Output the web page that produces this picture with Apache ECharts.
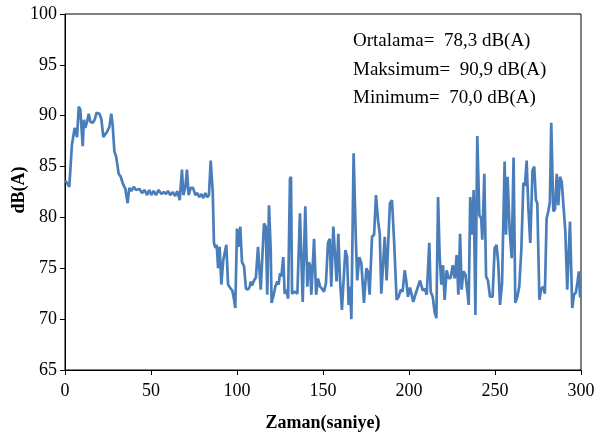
<!DOCTYPE html>
<html>
<head>
<meta charset="utf-8">
<script src="https://cdn.jsdelivr.net/npm/echarts@6/dist/echarts.min.js"></script>
<style>
  html, body { margin: 0; padding: 0; background: #fff; }
  #chart { width: 597px; height: 441px; }
</style>
</head>
<body>
<div id="chart"></div>
<script>
//----------------------Data----------------------
let times = [
  0, 1.2, 2.5, 4, 5.6, 6.4, 7, 8, 8.9, 10.3, 11, 11.8, 12.8, 13.8, 14.7, 16.1, 17.2, 18.4, 20, 21.1,
  22.3, 23.4, 24.4, 25.8, 26.9, 27.7, 28.7, 29.7, 31.2, 32.4, 33.7, 35.1, 36.4, 37.4, 38.6, 40, 41.3, 43.3, 44.8, 46.3,
  47.7, 49, 50.2, 51.5, 52.9, 54.4, 56, 57.4, 58.7, 59.9, 61.2, 62.6, 64.1, 65.3, 66.7, 68, 68.8, 70, 70.9, 71.9,
  73.1, 74.4, 75.8, 76.9, 78.1, 79.3, 80.4, 81.6, 82.7, 83.7, 84.7, 85.9, 86.6, 87.4, 88.2, 89, 89.9, 90.9, 92, 93.8,
  94.8, 96.3, 97.3, 98.3, 99, 100, 101, 101.9, 102.9, 104.1, 105.2, 106.4, 107.4, 108, 108.7, 109.9, 111, 112.2, 113.8, 114.7,
  115.7, 116.7, 117.6, 118.6, 119.6, 120.1, 121.2, 122.3, 123.4, 124.2, 125, 125.8, 126.9, 127.7, 128.7, 129.7, 130.8, 131.4, 132, 133.5,
  135.1, 136.6, 138.2, 139.7, 140.9, 141.7, 142.5, 143.2, 144.8, 146, 147.1, 148.3, 149.4, 150.6, 151.7, 152.9, 153.9, 154.8, 156, 157.9,
  158.9, 159.9, 161, 161.8, 163, 164, 164.9, 165.7, 166.5, 167.8, 169.1, 169.9, 171.1, 172.3, 173.8, 175.2, 176.1, 177.1, 178.5, 179.7,
  180.8, 182, 183, 183.9, 184.9, 185.9, 187, 188, 188.9, 190.1, 191.3, 192.8, 194, 195.2, 196.3, 197.5, 198.4, 199.4, 200.6, 201.5,
  202.5, 203.7, 204.7, 206.4, 208, 209.1, 210.3, 211, 211.8, 212.6, 213.8, 214.9, 215.9, 216.9, 217.8, 218.8, 219.8, 220.7, 221.9, 223.1,
  224.3, 225.4, 226.6, 227.7, 228.7, 229.7, 230.6, 231.6, 232.8, 233.9, 234.7, 235.6, 236.6, 237.6, 238.6, 239.7, 240.9, 242, 242.6, 243.8,
  244.8, 245.9, 247.1, 248.6, 249.8, 250.9, 251.9, 252.9, 254.1, 255.6, 256.4, 257.3, 258.5, 259.7, 260.8, 261.8, 263, 264.1, 265.3, 266.5,
  267.4, 268.4, 269.4, 270.5, 271.8, 272.8, 273.8, 274.6, 275.8, 277, 278.1, 279, 280, 281, 281.9, 282.7, 283.9, 284.9, 285.9, 286.8,
  287.8, 288.8, 289.7, 290.9, 292, 293.6, 294.9, 295.9, 297, 298, 298.8, 299.4, 300
];
let levels = [
  83.6, 83.4, 83.0, 87.1, 88.8, 88.8, 87.9, 90.9, 90.6, 87.0, 89.6, 88.8, 89.4, 90.2, 89.4, 89.3, 89.6, 90.3, 90.2, 89.7,
  87.9, 87.8, 88.4, 88.9, 90.2, 89.1, 86.5, 86.0, 84.3, 84.0, 83.3, 82.8, 81.4, 82.9, 82.6, 83.0, 82.7, 82.8, 82.4, 82.7,
  82.2, 82.7, 82.2, 82.6, 82.2, 82.7, 82.3, 82.5, 82.3, 82.6, 82.2, 82.5, 82.1, 82.6, 81.7, 84.7, 82.2, 83.0, 84.7, 82.2,
  82.9, 82.9, 82.2, 82.4, 82.0, 82.3, 81.9, 82.4, 82.0, 82.2, 85.6, 82.5, 77.5, 77.0, 77.3, 75.0, 77.1, 73.4, 75.8, 77.3,
  73.4, 73.0, 72.8, 71.9, 71.1, 78.9, 77.1, 79.1, 75.6, 75.2, 73.0, 72.9, 73.2, 73.7, 73.3, 73.8, 74.1, 77.1, 72.9, 72.8,
  79.4, 79.1, 72.4, 81.2, 76.8, 71.6, 72.3, 73.2, 73.7, 73.4, 74.5, 74.2, 76.1, 72.5, 72.9, 72.0, 83.8, 84.0, 72.5, 72.7,
  72.5, 80.4, 71.7, 81.1, 73.2, 75.6, 75.3, 72.4, 77.9, 72.4, 74.0, 73.2, 73.0, 72.7, 73.5, 77.5, 77.9, 73.2, 79.1, 73.7,
  78.4, 73.8, 70.9, 70.9, 76.8, 76.1, 71.4, 73.2, 70.0, 86.3, 77.8, 73.8, 76.1, 75.5, 71.6, 75.0, 74.7, 72.4, 78.1, 78.3,
  82.2, 79.7, 78.4, 72.5, 72.5, 78.1, 73.8, 73.8, 81.4, 81.7, 77.8, 71.9, 72.2, 72.9, 72.7, 74.8, 73.8, 72.2, 73.1, 73.0,
  71.7, 72.4, 72.3, 73.8, 72.8, 73.0, 72.4, 72.5, 77.5, 72.7, 72.2, 70.7, 70.1, 82.0, 76.3, 73.4, 75.3, 71.9, 74.8, 74.0,
  74.1, 75.3, 74.0, 76.3, 72.4, 78.4, 72.9, 74.7, 74.4, 72.7, 71.4, 82.0, 78.3, 82.7, 70.4, 88.0, 80.2, 79.9, 77.8, 84.3,
  74.2, 73.8, 72.2, 72.2, 77.0, 77.3, 75.5, 71.4, 73.5, 85.5, 78.3, 84.0, 78.8, 76.0, 85.9, 71.6, 72.2, 73.2, 76.8, 83.4,
  83.1, 85.6, 80.9, 77.5, 84.6, 85.0, 81.7, 81.4, 71.9, 73.0, 73.2, 72.5, 79.9, 80.6, 81.5, 89.3, 80.6, 80.8, 84.3, 81.2,
  84.0, 83.5, 83.4, 78.6, 72.9, 79.6, 71.1, 72.4, 72.6, 73.7, 74.7, 72.2, 72.2
];
let statLines = ["Ortalama=  78,3 dB(A)", "Maksimum=  90,9 dB(A)", "Minimum=  70,0 dB(A)"];
let xTitle = "Zaman(saniye)";
let yTitle = "dB(A)";

//----------------------Series----------------------
let noise_points = [];
for (let i = 0; i < times.length; i++) {
  noise_points.push([times[i], levels[i]]);
}

let serif = "'Liberation Serif', 'Times New Roman', serif";
let chart = echarts.init(document.getElementById("chart"));

// stat box text + rotated y title
let chart_graphics = statLines.map(function (t, i) {
  return {
    type: "text", left: 353, top: 32 + i * 28.5,
    style: { text: t, fontFamily: serif, fontSize: 19, fill: "#000" }
  };
});
chart_graphics.push({
  type: "text", x: 19, y: 190, rotation: Math.PI / 2,
  style: {
    text: yTitle, fontFamily: serif, fontWeight: "bold", fontSize: 18, fill: "#000",
    textAlign: "center", textVerticalAlign: "middle"
  }
});

let option = {
  backgroundColor: "#fff",
  animation: false,
  grid: {
    left: 65, top: 14, right: 16, bottom: 71,
    outerBoundsMode: "none",
    containLabel: false,
    show: true, borderColor: "#000", borderWidth: 1
  },
  xAxis: {
    type: "value", min: 0, max: 300, interval: 50,
    name: xTitle, nameLocation: "middle", nameGap: 44,
    nameTextStyle: { fontFamily: serif, fontWeight: "bold", fontSize: 18, color: "#000" },
    axisLine: { show: true, lineStyle: { color: "#000", width: 1 } },
    axisTick: { show: true, length: 5, lineStyle: { color: "#000" } },
    axisLabel: { fontFamily: serif, fontSize: 18, color: "#000", margin: 12 },
    splitLine: { show: false }
  },
  yAxis: {
    type: "value", min: 65, max: 100, interval: 5,
    axisLine: { show: true, lineStyle: { color: "#000", width: 1 } },
    axisTick: { show: true, length: 5, lineStyle: { color: "#000" } },
    axisLabel: { fontFamily: serif, fontSize: 18, color: "#000", margin: 8 },
    splitLine: { show: false }
  },
  series: [{
    type: "line",
    data: noise_points,
    showSymbol: false,
    lineStyle: { color: "#4a7ebb", width: 2.7 },
    itemStyle: { color: "#4a7ebb" }
  }],
  graphic: chart_graphics
};
chart.setOption(option);
</script>
</body>
</html>
